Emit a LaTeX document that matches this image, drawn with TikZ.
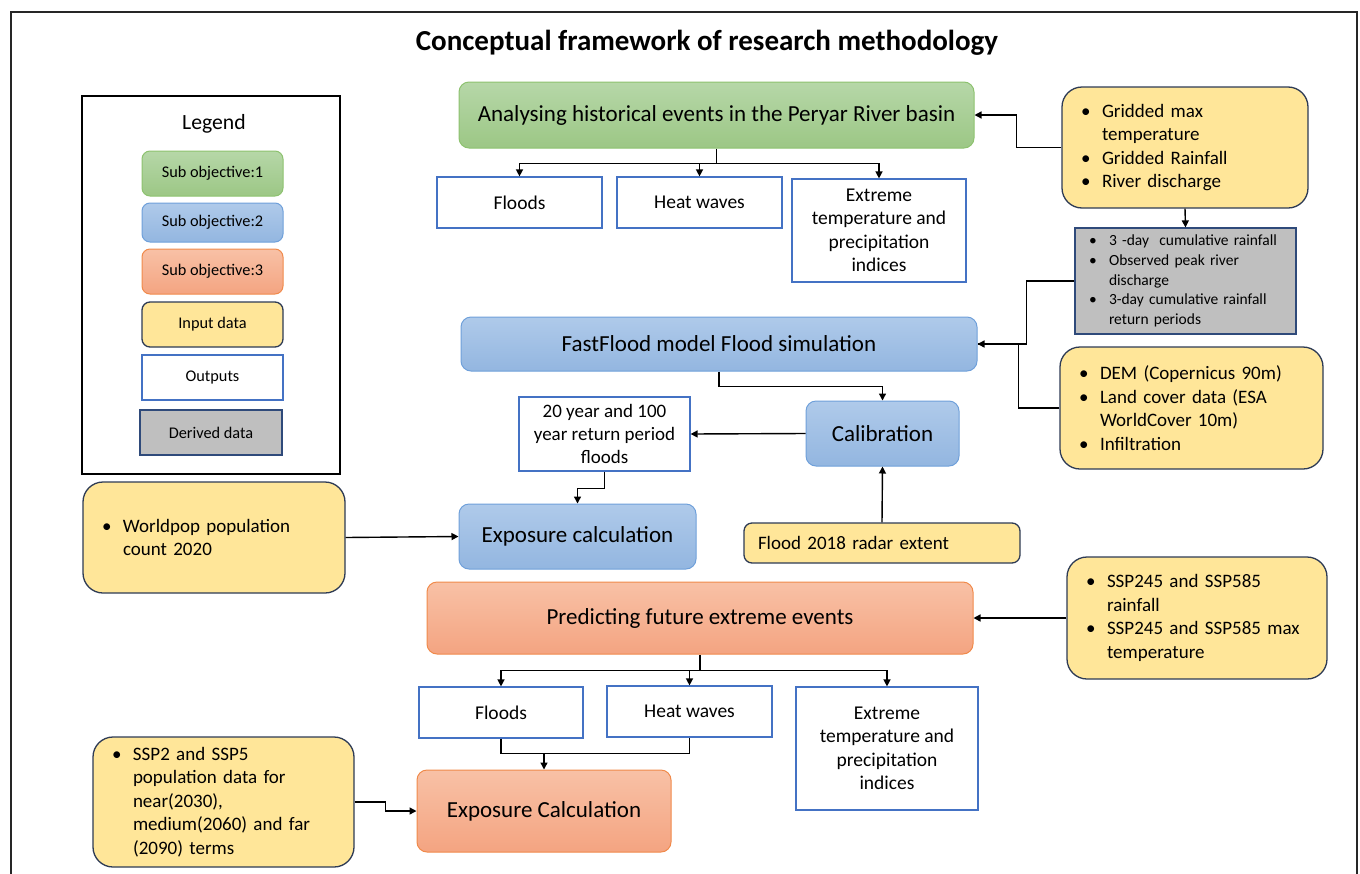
\documentclass[tikz,border=0pt]{standalone}
\usepackage{fontspec}
\setmainfont{Carlito}
\usetikzlibrary{arrows.meta}
\definecolor{gTop}{HTML}{B6D7A8}
\definecolor{gBot}{HTML}{9CC785}
\definecolor{gLine}{HTML}{8DC26F}
\definecolor{bTop}{HTML}{AFCAEA}
\definecolor{bBot}{HTML}{93B6E0}
\definecolor{bLine}{HTML}{6FA0DA}
\definecolor{oTop}{HTML}{F8C1A6}
\definecolor{oBot}{HTML}{F4A481}
\definecolor{oLine}{HTML}{F08A4B}
\definecolor{yFill}{HTML}{FFE699}
\definecolor{yLine}{HTML}{2E3B55}
\definecolor{outLine}{HTML}{4472C4}
\definecolor{dFill}{HTML}{BFBFBF}
\definecolor{dLine}{HTML}{2F4A7A}
\newcommand\bl{\hspace*{19pt}\makebox[21pt][l]{\textbullet}}
\newcommand\ind{\hspace*{40pt}}
\newcommand\dbl{\hspace*{14pt}\makebox[20pt][l]{\textbullet}}
\newcommand\dind{\hspace*{34pt}}
\begin{document}
\begin{tikzpicture}[x=1pt,y=-1pt,
  sz/.style 2 args={minimum width=#1pt,minimum height=#2pt,inner sep=0pt},
  grnbox/.style={draw=gLine,line width=1pt,top color=gTop,bottom color=gBot,rounded corners=10pt,align=center},
  blubox/.style={draw=bLine,line width=1pt,top color=bTop,bottom color=bBot,rounded corners=10pt,align=center},
  orabox/.style={draw=oLine,line width=1pt,top color=oTop,bottom color=oBot,rounded corners=10pt,align=center},
  inbox/.style={draw=yLine,line width=1.3pt,fill=yFill,rounded corners=20pt,align=left,font=\fontsize{19}{23.5}\selectfont},
  outbox/.style={draw=outLine,line width=1.2pt,fill=white,align=center,font=\fontsize{19.5}{23.5}\selectfont},
  derbox/.style={draw=dLine,line width=1.2pt,fill=dFill,align=left,font=\fontsize{15.5}{19.7}\selectfont},
  mainfont/.style={font=\fontsize{23}{27}\selectfont},
  legfont/.style={font=\fontsize{16.3}{19}\selectfont},
  arr/.style={-{Triangle[length=7pt,width=7pt]},line width=1.4pt},
  con/.style={line width=1.4pt}
]
\useasboundingbox (0,0) rectangle (1360,873);
\begin{scope}
\clip (0,0) rectangle (1360,873);
\draw[line width=1.6pt,draw=black!85] (11,12) rectangle (1357,900);
\end{scope}

% title
\node[font=\fontsize{29}{33}\selectfont\bfseries] (title) at (707,43) {Conceptual framework of research methodology};

% legend
\node[draw=black,line width=1.3pt,sz={258}{378}] (legend) at (211,285) {};
\node[font=\fontsize{21.7}{25}\selectfont] (legtitle) at (214,124) {Legend};
\node[grnbox,legfont,rounded corners=8pt,sz={141}{45}] (l1) at (212.5,173.5) {Sub objective:1};
\node[blubox,legfont,rounded corners=8pt,sz={141}{39}] (l2) at (212.5,222.5) {Sub objective:2};
\node[orabox,legfont,rounded corners=8pt,sz={141}{45}] (l3) at (212.5,271.5) {Sub objective:3};
\node[inbox,align=center,legfont,rounded corners=8pt,sz={141}{45}] (l4) at (212.5,324.5) {Input data};
\node[outbox,legfont,sz={141}{45}] (l5) at (212.5,377.5) {Outputs};
\node[derbox,align=center,legfont,sz={142}{45}] (l6) at (211,432.5) {Derived data};

% sub objective 1
\node[grnbox,mainfont,sz={515}{66}] (green) at (716.5,115) {Analysing historical events in the Peryar River basin};
\node[outbox,sz={165}{51}] (floods1) at (519.5,202.5) {Floods};
\node[outbox,sz={165}{51}] (heat1) at (699.5,202.5) {Heat waves};
\node[outbox,sz={174}{103}] (ext1) at (879,230.5) {Extreme\\temperature and\\precipitation\\indices};
\node[inbox,sz={246}{121},text width=246pt] (in1) at (1185,147.5) {\bl Gridded max\\\ind temperature\\\bl Gridded Rainfall\\\bl River discharge};
\node[derbox,sz={221}{106},text width=221pt] (der) at (1185.5,281) {\dbl 3 -day\ \ cumulative rainfall\\\dbl Observed peak river\\\dind discharge\\\dbl 3-day cumulative rainfall\\\dind return periods};
\node[inbox,sz={263}{122},text width=263pt] (in2) at (1191.5,408) {\bl DEM (Copernicus 90m)\\\bl Land cover data (ESA\\\ind WorldCover 10m)\\\bl Infiltration};

% sub objective 2
\node[blubox,mainfont,sz={516}{54}] (ff) at (719,344) {FastFlood model Flood simulation};
\node[blubox,mainfont,sz={153}{65}] (cal) at (882.5,433.5) {Calibration};
\node[outbox,font=\fontsize{19}{23}\selectfont,sz={171}{74}] (twenty) at (604.5,434) {20 year and 100\\year return period\\floods};
\node[blubox,mainfont,sz={237}{65}] (expb) at (577.5,536.5) {Exposure calculation};
\node[inbox,sz={262}{111},text width=262pt] (wpop) at (214,537.5) {\bl Worldpop population\\\ind count 2020};
\node[inbox,rounded corners=8pt,sz={276}{40},text width=276pt] (radar) at (882,543) {\hspace*{14pt}Flood 2018 radar extent};

% sub objective 3
\node[orabox,mainfont,sz={546}{72}] (pred) at (700,618) {Predicting future extreme events};
\node[inbox,sz={260}{122},text width=260pt] (sspin) at (1197,618) {\bl SSP245 and SSP585\\\ind rainfall\\\bl SSP245 and SSP585 max\\\ind temperature};
\node[outbox,sz={164}{51}] (floods2) at (501,712.5) {Floods};
\node[outbox,sz={165}{51}] (heat2) at (689.5,711.5) {Heat waves};
\node[outbox,sz={182}{123}] (ext2) at (887,748.5) {Extreme\\temperature and\\precipitation\\indices};
\node[orabox,mainfont,sz={254}{82}] (expo) at (544,811) {Exposure Calculation};
\node[inbox,sz={261}{130},text width=261pt] (ssp2) at (223.5,802) {\bl SSP2 and SSP5\\\ind population data for\\\ind near(2030),\\\ind medium(2060) and far\\\ind (2090) terms};

% connectors objective 1
\draw[con] (green.south) -- ++(0,15) coordinate (b1);
\draw[arr] (b1) -| (floods1.north);
\draw[arr] (b1) -| (heat1.north);
\draw[arr] (b1) -| (ext1.north);
\draw[arr] (in1.west) -- ++(-45,0) |- (green.east);
\draw[arr] (in1.south) -- (der.north);
\draw[arr] (der.west) -- ++(-48,0) |- (ff.east);
\draw[con] (in2.west) -- ++(-41,0) |- (ff.east);

% connectors objective 2
\draw[arr] (ff.south) -- ++(0,15) -| (cal.north);
\draw[arr] (cal.west) -- (twenty.east);
\draw[arr] (twenty.south) -- ++(0,17) -| (expb.north);
\draw[arr] (wpop.east) -- (expb.west);
\draw[arr] (radar.north) -- (cal.south);

% connectors objective 3
\draw[arr] (sspin.west) -- (pred.east);
\draw[con] (pred.south) -- ++(0,16) coordinate (b2);
\draw[arr] (b2) -| (floods2.north);
\draw[arr] (b2) -| (heat2.north);
\draw[arr] (b2) -| (ext2.north);
\draw[con] (floods2.south) -- ++(0,15) coordinate (m) -| (heat2.south);
\draw[arr] (m -| expo.north) -- (expo.north);
\draw[arr] (ssp2.east) -- ++(31,0) |- (expo.west);
\end{tikzpicture}
\end{document}
